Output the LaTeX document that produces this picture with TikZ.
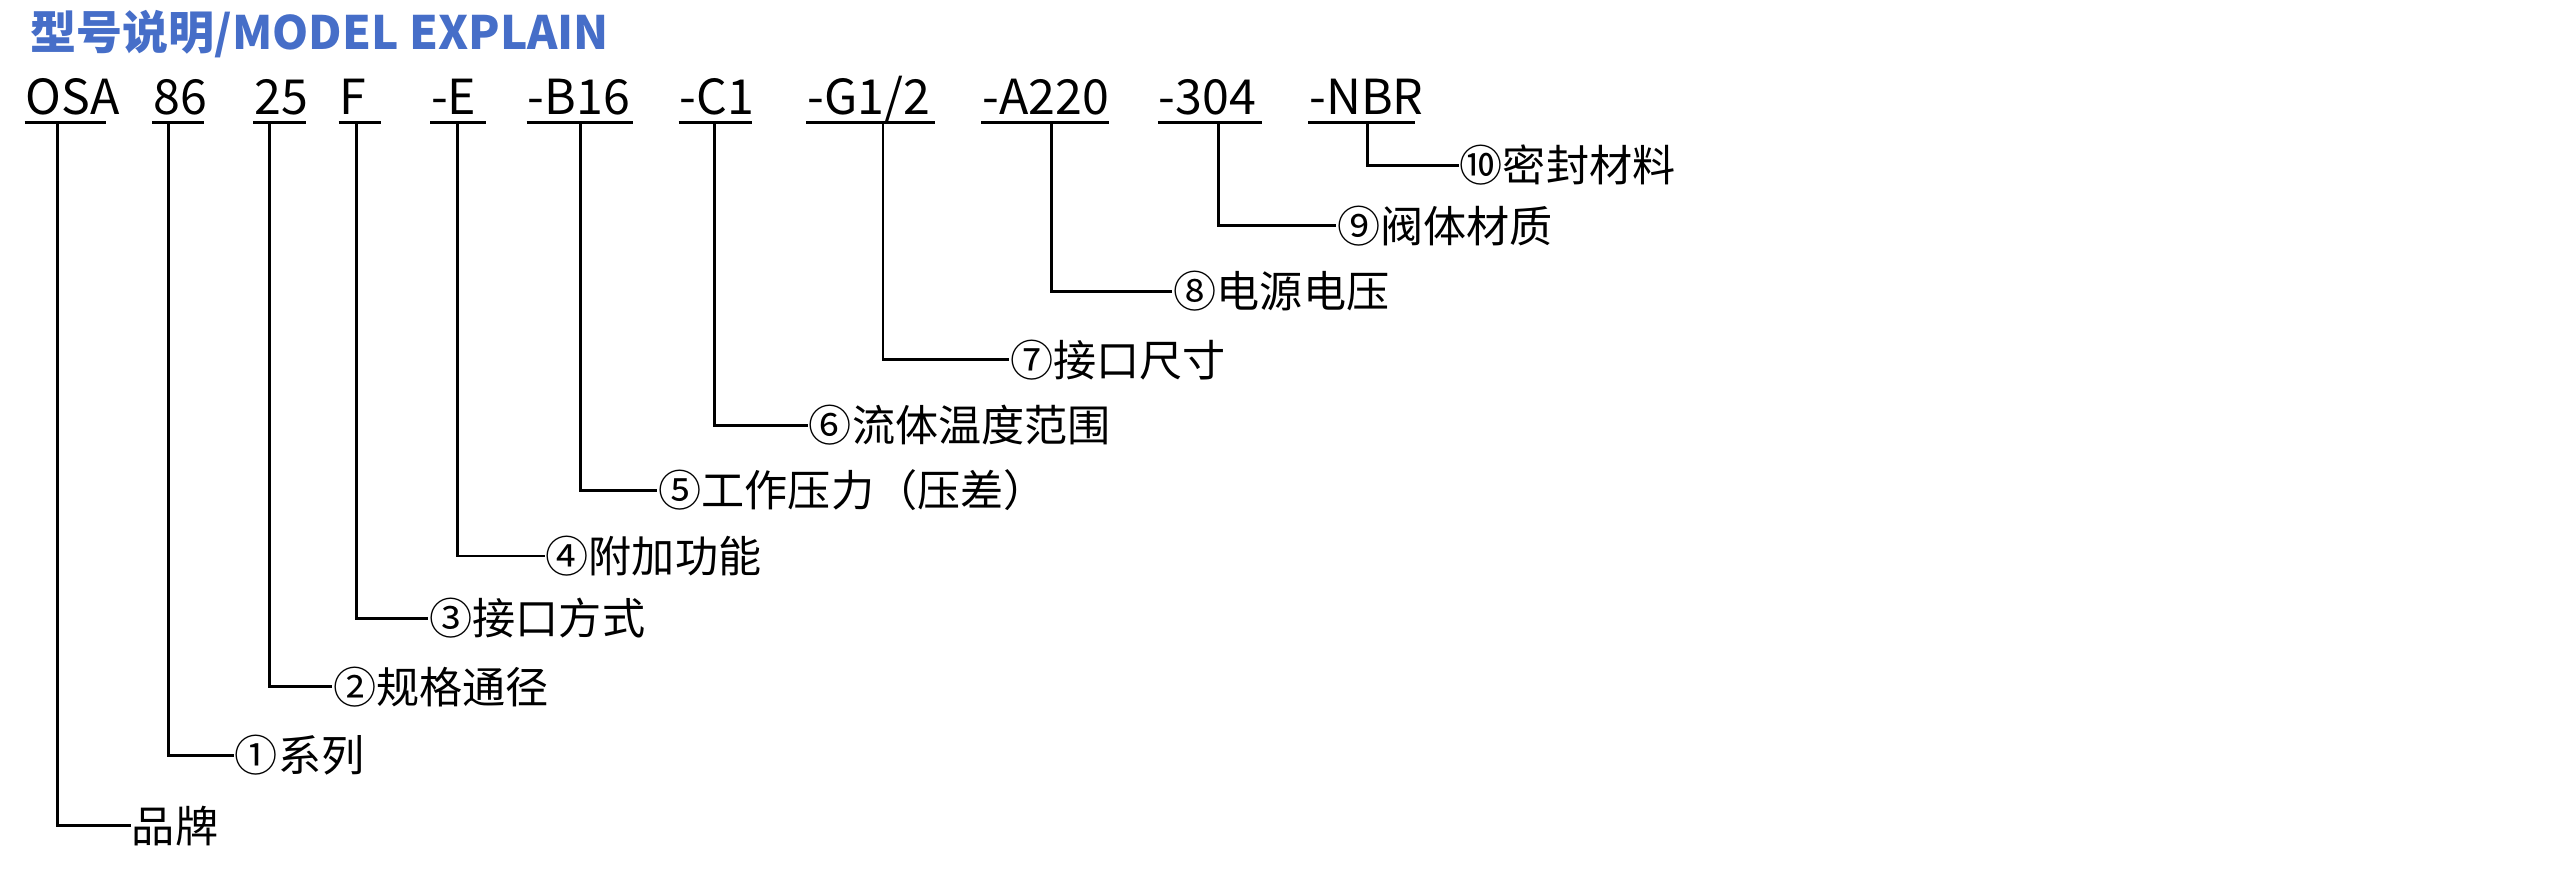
\documentclass[tikz,border=0pt]{standalone}
\usepackage{fontspec}
\setmainfont{Noto Sans CJK SC}
\definecolor{titleblue}{RGB}{70,110,200}
\begin{document}
\begin{tikzpicture}[x=0.01cm,y=-0.01cm,
    code/.style={anchor=base west, inner sep=0pt, font=\fontsize{8.4}{10}\selectfont},
    lab/.style={anchor=west, inner sep=0pt, font=\fontsize{7.5}{8}\selectfont},
    lead/.style={line width=0.5pt}]
  \useasboundingbox (0,0) rectangle (1560,545);

  \node [anchor=base west, inner sep=0pt, text=titleblue, font=\fontsize{8}{9}\selectfont\bfseries] (title) at (18,30) {型号说明/MODEL EXPLAIN};

  % code parts: x-start, x-end, drop x, elbow y, label x, label
  \foreach \name/\xa/\xb/\xd/\yy/\xl/\txt/\lbl in {
      osa/15/65/35/505/80/OSA/品牌,
      ser/93/125/103/462/143/86/①系列,
      dn/155/187/165/420/203/25/②规格通径,
      fit/207/233/218/378/262/F/③接口方式,
      fun/263/297/280/340/333/-E/④附加功能,
      prs/322/387/355/300/402/-B16/⑤工作压力（压差）,
      tmp/415/460/437/260/494/-C1/⑥流体温度范围,
      prt/493/572/540/220/617/{-G1/2}/⑦接口尺寸,
      vol/600/678/643/178/717/-A220/⑧电源电压,
      bod/708/772/745/138/817/-304/⑨阀体材质,
      sea/800/865/836/101/892/-NBR/⑩密封材料} {
    \node [code] (\name) at (\xa,70) {\txt};
    \coordinate (\name-l) at (\xa,75);
    \coordinate (\name-r) at (\xb,75);
    \coordinate (\name-d) at (\xd,75);
    \coordinate (\name-e) at (\xd,\yy);
    \node [lab] (\name-t) at (\xl,\yy) {\lbl};
    \draw [lead] (\name-l) -- (\name-r);
    \draw [lead] (\name-d) -- (\name-e) -- (\name-t.west);
  }
\end{tikzpicture}
\end{document}
